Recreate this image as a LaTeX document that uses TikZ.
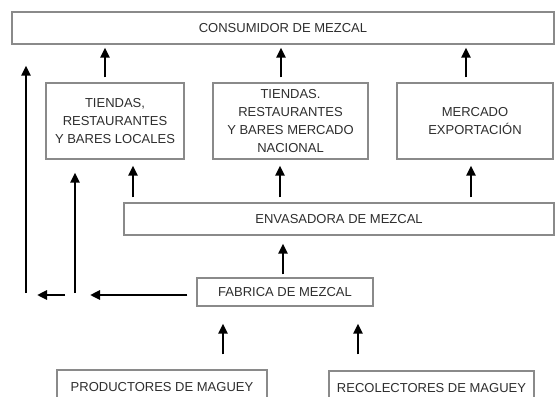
\documentclass[tikz,border=0pt]{standalone}
\usepackage{fontspec}
\setmainfont{Liberation Sans}
\usetikzlibrary{arrows.meta}
\definecolor{boxgray}{HTML}{8A8A8A}
\definecolor{txtgray}{HTML}{2E2E2E}
\begin{document}
\begin{tikzpicture}[x=1pt,y=-1pt,
  box/.style={draw=boxgray, line width=1.4pt, rectangle, inner sep=0pt, align=center,
    text=txtgray, font=\fontsize{13}{18}\selectfont},
  arr/.style={line width=2.8pt, -{Triangle[width=9pt,length=10pt]}}]
\useasboundingbox (0,0) rectangle (559,396);
\clip (0,0) rectangle (559,396);
\fill[white] (0,0) rectangle (559,396);
% nodes
\node[box, minimum width=542pt, minimum height=32pt] (cons) at (283,28) {CONSUMIDOR DE MEZCAL};
\node[box, minimum width=138pt, minimum height=76pt] (b1) at (115,121) {TIENDAS,\\RESTAURANTES\\Y BARES LOCALES};
\node[box, minimum width=155pt, minimum height=76pt] (b2) at (290.5,121) {TIENDAS.\\RESTAURANTES\\Y BARES MERCADO\\NACIONAL};
\node[box, minimum width=156pt, minimum height=76pt] (b3) at (475,121) {MERCADO\\EXPORTACIÓN};
\node[box, minimum width=430pt, minimum height=32pt] (env) at (339,219) {ENVASADORA DE MEZCAL};
\node[box, minimum width=176pt, minimum height=28pt] (fab) at (285,292) {FABRICA DE MEZCAL};
\node[box, minimum width=210pt, minimum height=34pt, text depth=0pt] (prod) at (162,387) {PRODUCTORES DE MAGUEY};
\node[box, minimum width=205pt, minimum height=34pt, text depth=0pt] (rec) at (431.5,388) {RECOLECTORES DE MAGUEY};
% x positions of connectors
\coordinate (xa) at (105,0);
\coordinate (xb) at (281,0);
\coordinate (xc) at (466,0);
\coordinate (xd) at (133,0);
\coordinate (xe) at (280,0);
\coordinate (xf) at (471,0);
\coordinate (xg) at (283,0);
\coordinate (xp) at (223,0);
\coordinate (xr) at (358,0);
\coordinate (v1) at (26,293);
\coordinate (v2) at (75,293);
\coordinate (hy) at (0,295);
% top row
\draw[arr, shorten <=5pt, shorten >=3pt] (b1.north -| xa) -- (cons.south -| xa);
\draw[arr, shorten <=5pt, shorten >=3pt] (b2.north -| xb) -- (cons.south -| xb);
\draw[arr, shorten <=5pt, shorten >=3pt] (b3.north -| xc) -- (cons.south -| xc);
% envasadora to row 2
\draw[arr, shorten <=5pt, shorten >=6pt] (env.north -| xd) -- (b1.south -| xd);
\draw[arr, shorten <=5pt, shorten >=6pt] (env.north -| xe) -- (b2.south -| xe);
\draw[arr, shorten <=5pt, shorten >=6pt] (env.north -| xf) -- (b3.south -| xf);
% fabrica to envasadora
\draw[arr, shorten <=3pt, shorten >=8pt] (fab.north -| xg) -- (env.south -| xg);
% bottom
\draw[arr, shorten <=15pt, shorten >=17pt] (prod.north -| xp) -- (fab.south -| xp);
\draw[arr, shorten <=16pt, shorten >=17pt] (rec.north -| xr) -- (fab.south -| xr);
% left side
\draw[arr, shorten <=9pt, shorten >=15pt] (fab.west |- hy) -- (v2 |- hy);
\draw[arr, shorten >=13pt] (v2) -- (b1.south -| v2);
\draw[arr, shorten <=10pt, shorten >=11pt] (v2 |- hy) -- (v1 |- hy);
\draw[arr, shorten >=21pt] (v1) -- (v1 |- cons.south);
\end{tikzpicture}
\end{document}
